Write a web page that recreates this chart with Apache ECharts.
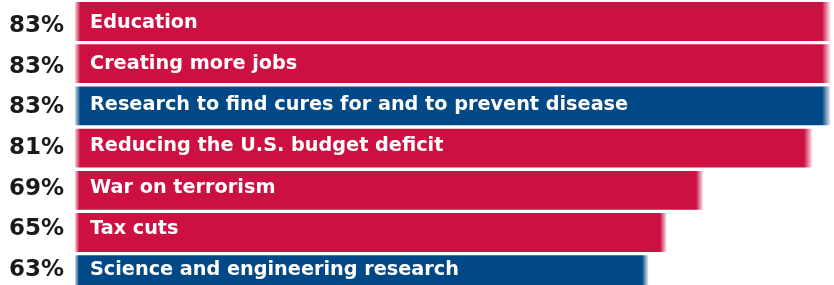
<!DOCTYPE html>
<html>
<head>
<meta charset="utf-8">
<script src="https://cdn.jsdelivr.net/npm/echarts@6/dist/echarts.min.js"></script>
<style>
  html, body { margin: 0; padding: 0; background: #fff; overflow: hidden; }
  #chart { width: 834px; height: 296px; }
</style>
</head>
<body>
<div id="chart"></div>
<script>
const categories = [
  'Education',
  'Creating more jobs',
  'Research to find cures for and to prevent disease',
  'Reducing the U.S. budget deficit',
  'War on terrorism',
  'Tax cuts',
  'Science and engineering research'
];
const values = [83, 83, 83, 81, 69, 65, 63];
// categories drawn in blue, the rest red
const blueItems = ['Research to find cures for and to prevent disease', 'Science and engineering research'];

const RED = '205,16,66';
const BLUE = '1,72,134';

function fadedBar(rgb) {
  return new echarts.graphic.LinearGradient(0, 0, 1, 0, [
    { offset: 0, color: 'rgba(' + rgb + ',0.2)' },
    { offset: 0.007, color: 'rgb(' + rgb + ')' },
    { offset: 0.989, color: 'rgb(' + rgb + ')' },
    { offset: 1, color: 'rgba(' + rgb + ',0.1)' }
  ]);
}

const hiddenX = (grid) => ({ type: 'value', gridIndex: grid, min: 0, max: 83.4, show: false });
const bareY = {
  type: 'category',
  inverse: true,
  data: categories,
  axisLine: { show: false },
  axisTick: { show: false },
  splitLine: { show: false }
};

const chart = echarts.init(document.getElementById('chart'));

chart.setOption({
  animation: false,
  // 0: bars, 1: percent column, 2: names written inside the bars
  // (the printed labels sit on a slightly tighter spacing than the bars)
  grid: [
    { left: 75, right: 0, top: 0.4, bottom: 0.2 },
    { left: 75, right: 0, top: 5.8, bottom: 5.6 },
    { left: 75, right: 0, top: 2, bottom: 5.1 }
  ],
  xAxis: [hiddenX(0), hiddenX(1), hiddenX(2)],
  yAxis: [
    Object.assign({}, bareY, { gridIndex: 0, axisLabel: { show: false } }),
    Object.assign({}, bareY, {
      gridIndex: 1,
      axisLabel: {
        margin: 11,
        color: '#1a1a1a',
        fontFamily: 'DejaVu Sans',
        fontWeight: 'bold',
        fontSize: 23,
        formatter: (name, i) => values[i] + '%'
      }
    }),
    Object.assign({}, bareY, {
      gridIndex: 2,
      z: 10,
      axisLabel: {
        inside: true,
        margin: 15,
        color: '#fff',
        fontFamily: 'DejaVu Sans',
        fontWeight: 'bold',
        fontSize: 19.25
      }
    })
  ],
  series: [{
    type: 'bar',
    xAxisIndex: 0,
    yAxisIndex: 0,
    data: values.map((v, i) => ({
      value: v,
      itemStyle: { color: fadedBar(blueItems.includes(categories[i]) ? BLUE : RED) }
    })),
    barCategoryGap: '8%'
  }]
});
</script>
</body>
</html>
